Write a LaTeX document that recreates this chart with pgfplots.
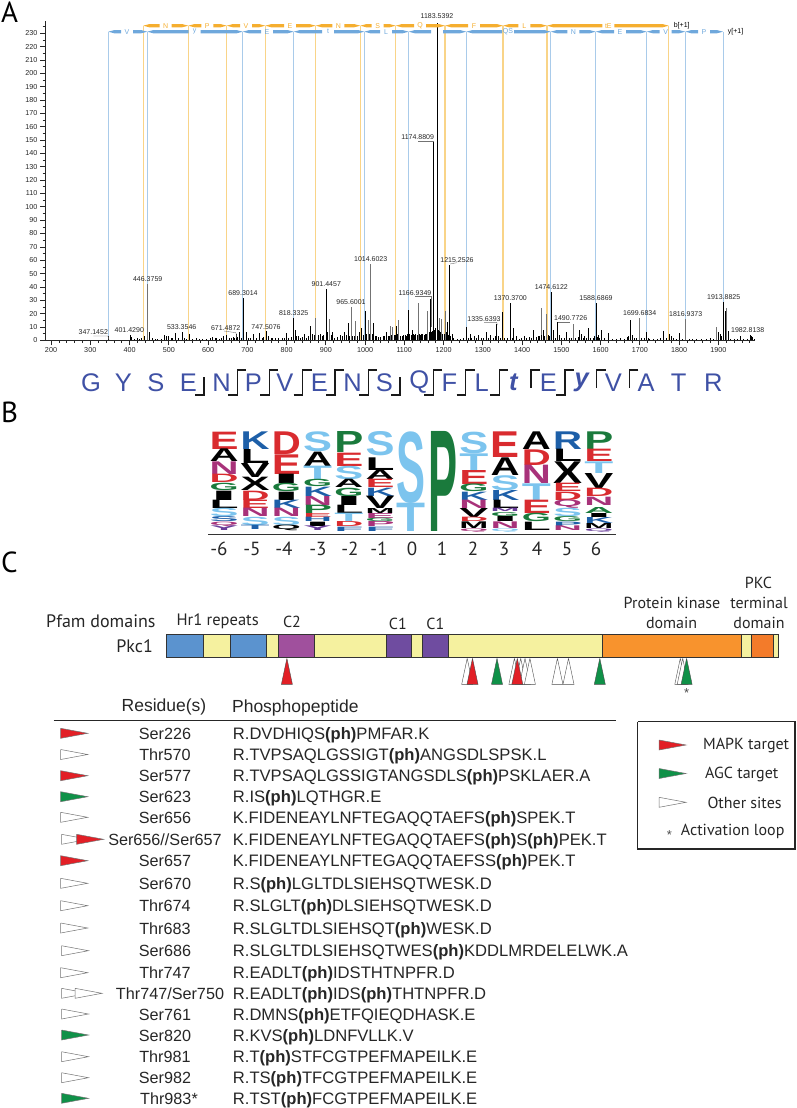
\documentclass[border=0pt]{standalone}
\usepackage{fontspec}
\usepackage{graphicx}
\usepackage{pgfplots}
\pgfplotsset{compat=1.18}
\setmainfont{Liberation Sans}
\newfontfamily\myr{PT Sans}
\newcommand\fs[1]{\fontsize{#1}{#1}\selectfont}

\definecolor{ladb}{HTML}{6FA8DC}
\definecolor{lado}{HTML}{F5AE2F}
\definecolor{linb}{HTML}{A9CBEA}
\definecolor{lino}{HTML}{F9D488}
\definecolor{seqc}{HTML}{3F51A5}
\definecolor{lr}{HTML}{D92B2F}
\definecolor{lm}{HTML}{A8327A}
\definecolor{lg}{HTML}{1A7A3C}
\definecolor{lb}{HTML}{1D5FA8}
\definecolor{ll}{HTML}{7CC4EE}
\definecolor{lp}{HTML}{6A3D9A}
\definecolor{lk}{HTML}{000000}
\definecolor{mapk}{HTML}{E21F26}
\definecolor{agc}{HTML}{0F9148}
\definecolor{dy}{HTML}{F5F19F}
\definecolor{db}{HTML}{5B93CF}
\definecolor{dm}{HTML}{A0509D}
\definecolor{dp}{HTML}{6F4CA0}
\definecolor{dor}{HTML}{F8932D}
\definecolor{dor2}{HTML}{F37B2A}

% ladder segment with a gap for its letter
\newcommand\lad[6]{%
  \pgfmathsetmacro\xa{#2+6}\pgfmathsetmacro\xb{#3-6}\pgfmathsetmacro\xc{#3+6}\pgfmathsetmacro\xd{#4-6}%
  \pgfmathsetmacro\yu{#5-1.6}\pgfmathsetmacro\yd{#5+1.6}%
  \addplot[fill=#1,draw=none,forget plot] coordinates {(#2,#5)(\xa,\yu)(\xb,\yu)(\xb,\yd)(\xa,\yd)};
  \addplot[fill=#1,draw=none,forget plot] coordinates {(\xc,\yu)(\xd,\yu)(#4,#5)(\xd,\yd)(\xc,\yd)};
  \node[text=#1,font=\fs{7}] at (axis cs:#3,#5) {#6};
}
% logo letter: column, letter, colour, top and bottom in logo units
\newcommand\lgl[5]{%
  \pgfmathsetmacro\lx{209.3+31.23*(#1+6)}\pgfmathsetmacro\ly{420+#4/3}\pgfmathsetmacro\lh{(#5-#4)/3}%
  \edef\tmp{\noexpand\node[anchor=north west,inner sep=0pt] at (axis cs:\lx,\ly) {\noexpand\resizebox*{29pt}{\lh pt}{\noexpand\textcolor{#3}{\noexpand\bfseries #2}}};}\tmp
}
\newcommand\dom[3]{\addplot[fill=#3,draw=black!80,line width=1pt,forget plot] coordinates {(#1,634)(#2,634)(#2,657.3)(#1,657.3)(#1,634)};}
\newcommand\tri[2]{%
  \pgfmathsetmacro\xa{#1-5.5}\pgfmathsetmacro\xb{#1+5.5}%
  \addplot[fill=#2,draw=black!70,line width=0.4pt,forget plot] coordinates {(#1,658.3)(\xb,684.3)(\xa,684.3)(#1,658.3)};
}
\newcommand\arr[3]{%
  \pgfmathsetmacro\xa{#1+27}\pgfmathsetmacro\yu{#2-5}\pgfmathsetmacro\yd{#2+5}%
  \addplot[fill=#3,draw=black!55,line width=0.5pt,forget plot] coordinates {(#1,\yu)(\xa,#2)(#1,\yd)(#1,\yu)};
}
% row: y, centre of the residue column, residue, peptide
\newcommand\row[4]{%
  \pgfmathsetmacro\yb{#1+6}%
  \edef\tmp{\noexpand\node[anchor=base,inner sep=0pt,text=black!85,font=\noexpand\fs{16.2}] at (axis cs:#2,\yb) {#3};
  \noexpand\node[anchor=base west,inner sep=0pt,text=black!85,font=\noexpand\fs{16.6}] at (axis cs:232.7,\yb) {\unexpanded{#4}};}\tmp
}
\newcommand\pk[3]{\node[text=black!85,font=\fs{7},inner sep=0pt] at (axis cs:#2,#3) {#1};}
\newcommand\seq[2]{\node[text=seqc,font=\fs{25.5},inner sep=0pt] at (axis cs:#1,382.5) {#2};}
\newcommand\brboth[1]{\pgfmathsetmacro\xa{#1-9}\pgfmathsetmacro\xb{#1+9}\addplot[black!90,line width=1.3pt,forget plot] coordinates {(\xa,395)(#1,395)(#1,370)(\xb,370)};}
\newcommand\brbot[1]{\pgfmathsetmacro\xa{#1-9}\addplot[black!90,line width=1.3pt,forget plot] coordinates {(\xa,395)(#1,395)(#1,377)};}
\newcommand\brtop[1]{\pgfmathsetmacro\xb{#1+9}\addplot[black!90,line width=1.3pt,forget plot] coordinates {(\xb,370)(#1,370)(#1,388)};}

\begin{document}
\begin{tikzpicture}[x=1pt,y=1pt]
\useasboundingbox (0,0) rectangle (796,1108);

% panel A: spectrum
\begin{axis}[
    at={(45pt,767.7pt)}, anchor=south west,
    width=710pt, height=319.6pt, scale only axis,
    xmin=184.7, xmax=1993.6, ymin=0, ymax=239.4,
    axis x line=bottom, axis y line=left,
    axis line style={-,black!85,line width=0.7pt},
    xtick distance=100, minor x tick num=4,
    ytick distance=10, minor y tick num=1,
    tick align=outside,
    major tick length=5pt, minor tick length=2.5pt,
    tick style={black!85,line width=0.6pt},
    xticklabel style={font=\fs{7.2},text=black!85,yshift=1pt},
    yticklabel style={font=\fs{7.2},text=black!85,xshift=1pt},
    /pgf/number format/assume math mode=true,
    /pgf/number format/1000 sep={},
    clip=false,
]
\addplot[ycomb,draw=linb,line width=0.9pt] coordinates {
  (346,231.2)(445.4,231.2)(688.4,231.2)(818.3,231.2)(998.2,231.2)(1111.3,231.2)
  (1258,231.2)(1473,231.2)(1587.8,231.2)(1717.7,231.2)(1816,231.2)(1912,231.2)};
\addplot[ycomb,draw=lino,line width=1.2pt] coordinates {
  (435,235.7)(549.8,235.7)(647.6,235.7)(746,235.7)(874.4,235.7)(988,235.7)
  (1078,235.7)(1203.8,235.7)(1351.6,235.7)(1463.7,235.7)(1773.7,235.7)};
% broad, greyer peaks
\addplot[ycomb,draw=black!55,line width=1pt] coordinates {
  (446.4,42)(875,17)(910,16)(965.6,25)(975,14.5)(1008,15)(1014.6,57)(1065,11)(1070,10)
  (1085,15)(1135,28)(1160,22)(1190,17)(1195,16)(1205,22)(1699.7,16.5)(1530,12)(1450,24)
  (1895,10)(1920,24)(1816.9,16)(1462,20)};
% sharp peaks
\addplot[ycomb,draw=black,line width=0.7pt] coordinates {
  (347.1,3)(401.4,4)(405,2.5)(430,2)(437,3)(450,6)(490,4)(495,3)(500,3.5)(516,5.5)(533.4,6)
  (540,2)(552,4.5)(570,1.5)(612,2.5)(622,2)(640,3)(648,4)(655,2)(664,2.5)(671.5,5)(680,6.5)
  (689.3,32)(697,6)(715,5)(730,5.5)(747.5,7)(755,3.5)(765,2)(800,5.5)(818.3,17)(822,8)(830,3)
  (845,5)(860,11)(865,5)(885,5)(895,4)(901.4,38.5)(918,6)(947,6.5)(957,13)(985,6)(990,9)
  (1000,22)(1021,13)(1030,3)(1055,6.5)(1080,11)(1111.3,23)(1120,8)(1166.9,31)(1174.9,149)
  (1183.5,238)(1210,14)(1215.3,56.5)(1222,5)(1258,10)(1268,4.5)(1278,3.5)(1290,4)(1310,6.5)
  (1320,4)(1335.6,12)(1340,3)(1350,21)(1370.4,28)(1378,9)(1385,3.5)(1405,3.5)(1418,2.5)
  (1430,8)(1445,3)(1455,8)(1474.6,36)(1480,8)(1490.8,14)(1495,4)(1513,6)(1547,8)(1552,5)
  (1560,3)(1570,9)(1588.7,28)(1595,4)(1603,8)(1620,5.5)(1650,1.5)(1672,3)(1676,15)(1680,4)
  (1718,6.5)(1722,2)(1760,7)(1775,5)(1780,3)(1800,5.5)(1900,6)(1905,5)(1913.9,29)(1917,22)
  (1925,7)(1955,3)(1982.8,4)(1985,3.5)(1988,2.5)};
% low noise, denser around the base peak
\addplot[ycomb,draw=black,line width=0.6pt] coordinates {
  (412,1)(420,1.5)(426,1)(458,2)(465,1)(472,0.8)(480,1)(506,2)(510,1.5)(525,2)(545,1.2)(560,1)
  (578,1.2)(585,0.8)(595,1)(605,1.5)(618,1.5)(628,1.2)(635,2)(660,1.5)(668,2)(675,2.5)(685,2)
  (703,2)(708,1.5)(722,2)(738,2)(742,2.5)(760,1.5)(772,1.5)(780,1.5)(788,1.5)(795,2)(805,2)
  (812,2.5)(826,3)(836,2)(840,2.5)(850,2)(855,3)(870,4)(880,4)(890,3.5)(905,6)(914,4)(923,2)
  (930,2.5)(936,4)(942,3)(952,4)(960,3)(968,3)(972,3)(980,3)(995,4)(1004,5)(1012,5)(1018,5)
  (1026,3)(1034,2.5)(1040,2.5)(1046,3)(1050,3)(1059,3)(1062,3)(1068,4)(1074,4)(1078,4)(1083,5)
  (1090,3)(1094,3.5)(1098,4)(1102,4)(1106,3.5)(1109,5)(1114,5)(1117,4)(1123,5)(1126,4)(1129,5)
  (1132,4)(1138,5)(1141,4)(1144,5)(1147,5)(1150,4)(1153,5)(1156,5)(1163,6)(1169,6)(1172,7)
  (1177,8)(1180,9)(1186,8)(1188,7)(1193,6)(1198,5)(1201,5)(1208,6)(1213,4)(1218,3)(1226,2)
  (1235,1)(1243,1)(1250,1.5)(1262,2)(1272,1.5)(1284,1.5)(1295,1.5)(1302,2)(1315,2)(1326,2)
  (1332,3)(1345,2)(1356,1.5)(1362,2)(1374,2)(1392,1)(1399,1.5)(1411,2)(1424,2)(1437,2.5)
  (1441,3)(1448,4)(1453,3)(1458,3)(1466,4)(1470,3)(1485,2)(1500,1.5)(1507,2)(1520,1.5)(1525,2)
  (1537,1.5)(1543,2.5)(1556,2)(1565,2)(1575,1.5)(1582,2)(1585,3)(1592,2.5)(1598,1.5)(1610,1.5)
  (1630,1)(1640,1)(1660,1)(1668,2.5)(1685,2)(1692,1.5)(1705,1.5)(1712,1.5)(1725,1)(1735,1)
  (1745,1)(1752,1.5)(1768,2)(1785,1.5)(1792,1)(1808,1)(1825,1)(1835,1)(1845,1)(1858,1)
  (1870,1)(1880,1.5)(1888,1)(1908,3)(1930,1)(1940,1)(1948,1)(1965,1)(1975,1)(1992,1)};
\end{axis}

% everything else, on a page-sized axis in pixel units
\begin{axis}[
    at={(0pt,0pt)}, anchor=south west,
    width=796pt, height=1108pt, scale only axis,
    xmin=0, xmax=796, ymin=0, ymax=1108, y dir=reverse,
    hide axis, clip=false,
]
% panel labels
\node[font=\myr\fs{29},anchor=base west,inner sep=0pt] at (axis cs:1,23) {A};
\node[font=\myr\fs{29},anchor=base west,inner sep=0pt] at (axis cs:1,422) {B};
\node[font=\myr\fs{29},anchor=base west,inner sep=0pt] at (axis cs:1,572) {C};

% fragment ladders
\lad{ladb}{108.3}{127}{147.3}{31.7}{V}
\lad{ladb}{147.3}{194.7}{242.7}{31.7}{y}
\lad{ladb}{242.7}{267}{293.7}{31.7}{E}
\lad{ladb}{293.7}{328}{364.3}{31.7}{t}
\lad{ladb}{364.3}{386}{408.7}{31.7}{L}
\lad{ladb}{408.7}{437}{466.3}{31.7}{}
\lad{ladb}{466.3}{508}{550.7}{31.7}{QS}
\lad{ladb}{550.7}{573.3}{595.7}{31.7}{N}
\lad{ladb}{595.7}{620}{646.7}{31.7}{E}
\lad{ladb}{646.7}{665.7}{685.3}{31.7}{V}
\lad{ladb}{685.3}{704}{723}{31.7}{P}
\lad{lado}{143.3}{165.7}{188.3}{25.7}{N}
\lad{lado}{188.3}{207.3}{226.7}{25.7}{P}
\lad{lado}{226.7}{246}{265.3}{25.7}{V}
\lad{lado}{265.3}{290}{315.7}{25.7}{E}
\lad{lado}{315.7}{338.3}{360.3}{25.7}{N}
\lad{lado}{360.3}{377.7}{395.7}{25.7}{S}
\lad{lado}{395.7}{420}{445}{25.7}{Q}
\lad{lado}{445}{474}{503}{25.7}{F}
\lad{lado}{503}{524.3}{547}{25.7}{L}
\lad{lado}{547}{608.3}{668.7}{25.7}{tE}
\node[font=\fs{7},inner sep=0pt] at (axis cs:681.7,25.7) {b[+1]};
\node[font=\fs{7},inner sep=0pt] at (axis cs:735.5,31.7) {y[+1]};

% peak labels
\pk{347.1452}{93.3}{332.3}
\pk{401.4290}{129.3}{330}
\pk{446.3759}{147.7}{279.3}
\pk{533.3546}{181.7}{327.3}
\pk{671.4872}{225.7}{328}
\pk{689.3014}{243}{292.7}
\pk{747.5076}{266}{326.7}
\pk{818.3325}{293.7}{312.7}
\pk{901.4457}{326.3}{283.7}
\pk{965.6001}{351}{302.3}
\pk{1014.6023}{370.7}{258.7}
\pk{1166.9349}{415}{292.7}
\pk{1174.8809}{417.7}{137.3}
\pk{1183.5392}{437}{15.7}
\pk{1215.2526}{457}{260}
\pk{1335.6393}{484}{319}
\pk{1370.3700}{510.3}{298.3}
\pk{1474.6122}{551.3}{287.3}
\pk{1490.7726}{570.7}{318.3}
\pk{1588.6869}{596}{297.7}
\pk{1699.6834}{639.7}{313.3}
\pk{1816.9373}{685.7}{314}
\pk{1913.8825}{723.7}{297}
\pk{1982.8138}{747.7}{329.7}
% label leaders
\addplot[black!55,line width=0.4pt,forget plot] coordinates {(93.3,336)(108,336)(109,340)};
\addplot[black!55,line width=0.4pt,forget plot] coordinates {(224,331)(236,332.7)(236.7,338)};
\addplot[black!55,line width=0.4pt,forget plot] coordinates {(415,296.3)(430.7,296.3)(430.7,327)};
\addplot[black!55,line width=0.4pt,forget plot] coordinates {(418,141.3)(433.6,141.3)};
\addplot[black!55,line width=0.4pt,forget plot] coordinates {(450,264)(457,262.7)};
\addplot[black!55,line width=0.4pt,forget plot] coordinates {(484,322.3)(496.7,322.3)(497.3,325)};
\addplot[black!55,line width=0.4pt,forget plot] coordinates {(558.3,322.3)(570,322.3)};

% peptide sequence
\seq{91}{G}\seq{123.3}{Y}\seq{156}{S}\seq{188.3}{E}\seq{221.7}{N}\seq{253.3}{P}\seq{285}{V}
\seq{319.3}{E}\seq{352.7}{N}\seq{384.3}{S}\seq{419.3}{Q}\seq{449.3}{F}\seq{481.7}{L}
\seq{513.3}{\bfseries\itshape t}\seq{548.3}{E}\seq{581.7}{\bfseries\itshape y}
\seq{613.3}{V}\seq{646}{A}\seq{678.7}{T}\seq{713.3}{R}
\brbot{204}\brboth{237.3}\brboth{269.3}\brboth{302.7}\brboth{335}\brboth{368.3}\brbot{400}
\brboth{433.3}\brboth{465.7}\brboth{499.3}\brtop{531}\brboth{565}\brtop{596.7}\brtop{629.3}

% panel B: sequence logo
\lgl{-6}{E}{lr}{35}{87}\lgl{-6}{A}{lk}{87}{125}\lgl{-6}{N}{lm}{125}{163}\lgl{-6}{D}{lr}{163}{188}
\lgl{-6}{G}{lg}{190}{212}\lgl{-6}{I}{lk}{212}{240}\lgl{-6}{L}{lk}{240}{265}\lgl{-6}{S}{ll}{265}{290}
\lgl{-6}{S}{lb}{290}{305}\lgl{-6}{Q}{lm}{305}{318}\lgl{-6}{Y}{lp}{318}{332}
\lgl{-5}{K}{lb}{35}{88}\lgl{-5}{L}{lk}{88}{130}\lgl{-5}{V}{lk}{130}{172}\lgl{-5}{X}{lk}{172}{212}
\lgl{-5}{D}{lr}{212}{240}\lgl{-5}{E}{lr}{240}{265}\lgl{-5}{N}{lm}{265}{290}\lgl{-5}{S}{ll}{290}{315}
\lgl{-5}{T}{lb}{315}{328}
\lgl{-4}{D}{lr}{35}{103}\lgl{-4}{E}{lr}{103}{162}\lgl{-4}{I}{lk}{162}{190}\lgl{-4}{G}{lg}{190}{215}
\lgl{-4}{I}{lk}{215}{240}\lgl{-4}{K}{lb}{240}{265}\lgl{-4}{N}{lm}{265}{290}\lgl{-4}{S}{ll}{290}{315}
\lgl{-4}{Q}{lk}{315}{332}
\lgl{-3}{S}{ll}{35}{95}\lgl{-3}{A}{lk}{95}{138}\lgl{-3}{T}{ll}{138}{178}\lgl{-3}{G}{lg}{178}{200}
\lgl{-3}{K}{lb}{200}{228}\lgl{-3}{N}{lm}{228}{255}\lgl{-3}{P}{lg}{255}{280}\lgl{-3}{E}{lr}{280}{292}
\lgl{-3}{H}{lb}{292}{305}\lgl{-3}{I}{lk}{305}{318}\lgl{-3}{Y}{lp}{318}{332}
\lgl{-2}{P}{lg}{35}{98}\lgl{-2}{E}{lr}{98}{138}\lgl{-2}{S}{ll}{138}{178}\lgl{-2}{A}{lk}{178}{203}
\lgl{-2}{G}{lg}{203}{228}\lgl{-2}{I}{lk}{228}{255}\lgl{-2}{L}{lk}{255}{280}\lgl{-2}{T}{ll}{280}{305}
\lgl{-2}{D}{lr}{305}{320}\lgl{-2}{F}{lb}{320}{333}
\lgl{-1}{S}{ll}{35}{108}\lgl{-1}{L}{lk}{112}{150}\lgl{-1}{A}{lk}{150}{178}\lgl{-1}{E}{lr}{178}{203}
\lgl{-1}{K}{lb}{203}{228}\lgl{-1}{V}{lk}{228}{265}\lgl{-1}{M}{lk}{265}{280}\lgl{-1}{E}{lm}{280}{295}
\lgl{-1}{G}{lg}{295}{305}\lgl{-1}{P}{lm}{305}{320}\lgl{-1}{F}{lb}{320}{333}
\lgl{0}{S}{ll}{35}{250}\lgl{0}{T}{ll}{250}{335}
\lgl{1}{P}{lg}{35}{335}
\lgl{2}{S}{ll}{35}{100}\lgl{2}{T}{ll}{100}{150}\lgl{2}{E}{lr}{150}{192}\lgl{2}{G}{lg}{192}{215}
\lgl{2}{K}{lb}{215}{240}\lgl{2}{N}{lm}{240}{265}\lgl{2}{V}{lk}{265}{292}\lgl{2}{D}{lr}{292}{305}
\lgl{2}{M}{lk}{305}{325}\lgl{2}{Q}{lm}{325}{335}
\lgl{3}{E}{lr}{35}{112}\lgl{3}{A}{lk}{112}{165}\lgl{3}{S}{ll}{165}{210}\lgl{3}{K}{lb}{210}{240}
\lgl{3}{L}{lk}{240}{265}\lgl{3}{M}{lp}{265}{275}\lgl{3}{G}{lg}{278}{290}\lgl{3}{I}{lk}{290}{305}
\lgl{3}{N}{lm}{305}{325}\lgl{3}{Q}{ll}{325}{335}
\lgl{4}{A}{lk}{35}{88}\lgl{4}{D}{lr}{88}{135}\lgl{4}{N}{lm}{135}{190}\lgl{4}{T}{ll}{190}{240}
\lgl{4}{E}{lr}{240}{280}\lgl{4}{G}{lg}{280}{305}\lgl{4}{L}{lk}{305}{330}
\lgl{5}{R}{lb}{35}{88}\lgl{5}{L}{lk}{88}{125}\lgl{5}{X}{lk}{125}{190}\lgl{5}{E}{lr}{190}{215}
\lgl{5}{D}{lr}{215}{240}\lgl{5}{Q}{lm}{240}{265}\lgl{5}{S}{ll}{265}{290}\lgl{5}{G}{lg}{290}{305}
\lgl{5}{P}{lb}{305}{318}\lgl{5}{N}{lm}{318}{332}
\lgl{6}{P}{lg}{35}{88}\lgl{6}{E}{lr}{88}{125}\lgl{6}{T}{ll}{125}{160}\lgl{6}{V}{lk}{160}{205}
\lgl{6}{D}{lr}{205}{230}\lgl{6}{N}{lm}{230}{255}\lgl{6}{A}{lg}{262}{280}\lgl{6}{I}{lk}{280}{292}
\lgl{6}{K}{lb}{292}{310}\lgl{6}{M}{lk}{310}{325}\lgl{6}{Q}{lp}{325}{335}
\addplot[black!80,line width=1pt,forget plot] coordinates {(208,534)(616,534)};
\node[font=\myr\fs{19},text=black!85] at (axis cs:219,549) {-6};
\node[font=\myr\fs{19},text=black!85] at (axis cs:252,549) {-5};
\node[font=\myr\fs{19},text=black!85] at (axis cs:284,549) {-4};
\node[font=\myr\fs{19},text=black!85] at (axis cs:318,549) {-3};
\node[font=\myr\fs{19},text=black!85] at (axis cs:350,549) {-2};
\node[font=\myr\fs{19},text=black!85] at (axis cs:379,549) {-1};
\node[font=\myr\fs{19},text=black!85] at (axis cs:412,549) {0};
\node[font=\myr\fs{19},text=black!85] at (axis cs:442,549) {1};
\node[font=\myr\fs{19},text=black!85] at (axis cs:473,549) {2};
\node[font=\myr\fs{19},text=black!85] at (axis cs:504,549) {3};
\node[font=\myr\fs{19},text=black!85] at (axis cs:537,549) {4};
\node[font=\myr\fs{19},text=black!85] at (axis cs:567,549) {5};
\node[font=\myr\fs{19},text=black!85] at (axis cs:596,549) {6};

% panel C: domain map
\dom{166.3}{203.9}{db}\dom{203.9}{230.5}{dy}\dom{230.5}{266.6}{db}\dom{266.6}{278.7}{dy}
\dom{278.7}{314.8}{dm}\dom{314.8}{386.2}{dy}\dom{386.2}{411.7}{dp}\dom{411.7}{422.4}{dy}
\dom{422.4}{448.9}{dp}\dom{448.9}{602.7}{dy}\dom{602.7}{741}{dor}\dom{741}{751.2}{dy}
\dom{751.2}{773.3}{dor2}\dom{773.3}{778.7}{dy}
\tri{467.2}{white}\tri{514.4}{white}\tri{520.7}{white}\tri{525}{white}\tri{529.9}{white}
\tri{557.4}{white}\tri{568.5}{white}\tri{680.3}{white}\tri{682.7}{white}
\tri{286.9}{mapk}\tri{472.5}{mapk}\tri{497}{agc}\tri{517.3}{mapk}\tri{599.8}{agc}\tri{686.6}{agc}
\node[font=\fs{13},text=black!70,inner sep=0pt] at (axis cs:686.6,693.5) {*};
\tikzset{hd/.style={font=\myr\fs{16},text=black!85,inner sep=0pt}}
\node[hd,font=\myr\fs{18},anchor=east] at (axis cs:155.7,621.7) {Pfam domains};
\node[hd,font=\myr\fs{18},anchor=east] at (axis cs:153,646) {Pkc1};
\node[hd,font=\myr\fs{16.5}] at (axis cs:217.7,621.7) {Hr1 repeats};
\node[hd] at (axis cs:292,621.7) {C2};
\node[hd] at (axis cs:397.8,624) {C1};
\node[hd] at (axis cs:435.4,624) {C1};
\node[hd] at (axis cs:672,602.7) {Protein kinase};
\node[hd] at (axis cs:671.6,622.7) {domain};
\node[hd] at (axis cs:758.4,583.3) {PKC};
\node[hd] at (axis cs:759,602.7) {terminal};
\node[hd] at (axis cs:759,623.3) {domain};

% phosphopeptide table
\node[font=\fs{17.5},text=black!85,inner sep=0pt] at (axis cs:164,707.3) {Residue(s)};
\node[font=\fs{17.5},text=black!85,inner sep=0pt,anchor=west] at (axis cs:231.9,708.3) {Phosphopeptide};
\addplot[black!85,line width=1pt,forget plot] coordinates {(53.5,720.7)(616,720.7)};
\row{733.3}{165}{Ser226}{R.DVDHIQS\textbf{(ph)}PMFAR.K}
\row{754.5}{165}{Thr570}{R.TVPSAQLGSSIGT\textbf{(ph)}ANGSDLSPSK.L}
\row{775.7}{165}{Ser577}{R.TVPSAQLGSSIGTANGSDLS\textbf{(ph)}PSKLAER.A}
\row{796.7}{165}{Ser623}{R.IS\textbf{(ph)}LQTHGR.E}
\row{817.3}{165}{Ser656}{K.FIDENEAYLNFTEGAQQTAEFS\textbf{(ph)}SPEK.T}
\row{839.3}{165}{Ser656//Ser657}{K.FIDENEAYLNFTEGAQQTAEFS\textbf{(ph)}S\textbf{(ph)}PEK.T}
\row{860.7}{165}{Ser657}{K.FIDENEAYLNFTEGAQQTAEFSS\textbf{(ph)}PEK.T}
\row{883.3}{165}{Ser670}{R.S\textbf{(ph)}LGLTDLSIEHSQTWESK.D}
\row{905.7}{165}{Thr674}{R.SLGLT\textbf{(ph)}DLSIEHSQTWESK.D}
\row{928}{165}{Thr683}{R.SLGLTDLSIEHSQT\textbf{(ph)}WESK.D}
\row{950.7}{165}{Ser686}{R.SLGLTDLSIEHSQTWES\textbf{(ph)}KDDLMRDELELWK.A}
\row{972.7}{165}{Thr747}{R.EADLT\textbf{(ph)}IDSTHTNPFR.D}
\row{993.3}{170}{Thr747/Ser750}{R.EADLT\textbf{(ph)}IDS\textbf{(ph)}THTNPFR.D}
\row{1014}{165}{Ser761}{R.DMNS\textbf{(ph)}ETFQIEQDHASK.E}
\row{1035}{165}{Ser820}{R.KVS\textbf{(ph)}LDNFVLLK.V}
\row{1056.7}{165}{Thr981}{R.T\textbf{(ph)}STFCGTPEFMAPEILK.E}
\row{1077.7}{165}{Ser982}{R.TS\textbf{(ph)}TFCGTPEFMAPEILK.E}
\row{1098.3}{169}{Thr983*}{R.TST\textbf{(ph)}FCGTPEFMAPEILK.E}
\arr{60.7}{733.3}{mapk}\arr{60.7}{754.5}{white}\arr{60.7}{775.7}{mapk}\arr{60.7}{796.7}{agc}
\arr{60.7}{817.3}{white}\arr{61.5}{839.3}{white}\arr{76.7}{839.3}{mapk}\arr{60.7}{860.7}{mapk}
\arr{60.7}{883.3}{white}\arr{60.7}{905.7}{white}\arr{60.7}{928}{white}\arr{61.5}{950.7}{white}
\arr{60.7}{972.7}{white}\arr{61.5}{993.3}{white}\arr{75}{993.3}{white}\arr{61.5}{1014}{white}
\arr{61.5}{1035}{agc}\arr{61.5}{1056.7}{white}\arr{61.5}{1077.7}{white}\arr{61.5}{1098.3}{agc}

% legend box
\addplot[black!85,line width=1.2pt,forget plot] coordinates {(637.7,721.7)(795,721.7)(795,849)(637.7,849)(637.7,721.7)};
\arr{659}{745}{mapk}\arr{659}{773.5}{agc}\arr{659}{802.3}{white}
\tikzset{lt/.style={font=\myr\fs{16},text=black!85,inner sep=0pt,anchor=west}}
\node[lt] at (axis cs:703,745) {MAPK target};
\node[lt] at (axis cs:705,774) {AGC target};
\node[lt] at (axis cs:707.3,803) {Other sites};
\node[lt] at (axis cs:680.7,831.7) {Activation loop};
\node[font=\fs{13},text=black!70,inner sep=0pt] at (axis cs:669.3,835) {*};
\end{axis}
\end{tikzpicture}
\end{document}
